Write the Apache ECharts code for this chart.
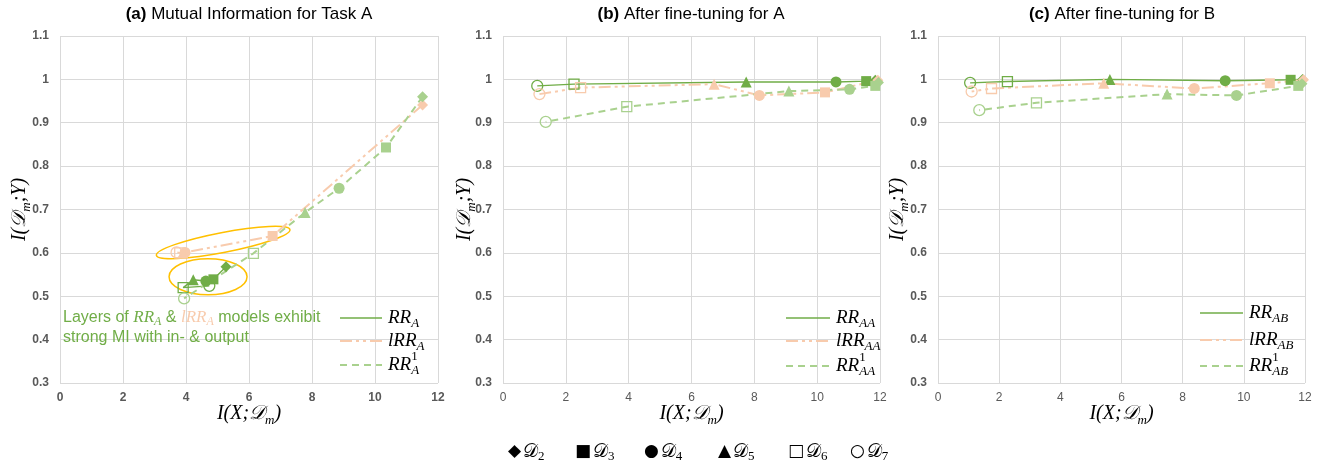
<!DOCTYPE html>
<html>
<head>
<meta charset="utf-8">
<script src="https://cdn.jsdelivr.net/npm/echarts@6/dist/echarts.min.js"></script>
<style>
html, body { margin: 0; background: #fff; }
#main { width: 1320px; height: 465px; }
</style>
</head>
<body>
<div id="main"></div>
<script>
// every series runs through the layers D2 .. D7 in this order
const layers = ['2', '3', '4', '5', '6', '7'];

// (a) Mutual Information for Task A
const aRRx   = [5.27, 4.87, 4.63, 4.23, 3.91, 4.74];
const aRRy   = [0.568, 0.539, 0.535, 0.538, 0.520, 0.524];
const aLRRx  = [11.51, 6.75, 3.97, 3.90, 3.80, 3.70];
const aLRRy  = [0.941, 0.639, 0.601, 0.600, 0.600, 0.601];
const aRR1x  = [11.51, 10.35, 8.86, 7.78, 6.14, 3.94];
const aRR1y  = [0.960, 0.843, 0.749, 0.693, 0.599, 0.495];

// (b) After fine-tuning for A
const bRRx   = [11.85, 11.56, 10.60, 7.74, 2.26, 1.09];
const bRRy   = [0.998, 0.996, 0.994, 0.994, 0.989, 0.985];
const bLRRx  = [11.93, 10.25, 8.16, 6.72, 2.47, 1.16];
const bLRRy  = [0.998, 0.970, 0.963, 0.989, 0.981, 0.966];
const bRR1x  = [11.95, 11.85, 11.03, 9.10, 3.94, 1.36];
const bRR1y  = [0.993, 0.985, 0.977, 0.973, 0.937, 0.902];

// (c) After fine-tuning for B
const cRRx   = [11.92, 11.53, 9.39, 5.62, 2.27, 1.05];
const cRRy   = [1.000, 0.999, 0.997, 1.000, 0.995, 0.992];
const cLRRx  = [11.95, 10.85, 8.38, 5.42, 1.75, 1.10];
const cLRRy  = [0.999, 0.991, 0.979, 0.991, 0.979, 0.972];
const cRR1x  = [11.90, 11.78, 9.76, 7.49, 3.22, 1.35];
const cRR1y  = [0.990, 0.985, 0.963, 0.966, 0.946, 0.929];

const xMin = 0, xMax = 12, xStep = 2;
const yMin = 0.3, yMax = 1.1, yStep = 0.1;

const DARK = '#70AD47', PEACH = '#F8CBAD', LIGHT = '#A9D18E';
const SANS = "'Liberation Sans', Arial, sans-serif";
const MATH = "'Liberation Serif', 'DejaVu Serif', serif";
const SYM  = ['diamond', 'rect', 'circle', 'triangle', 'rect', 'circle'];
const OPEN = [false, false, false, false, true, true];
const SIZE = [11, 10, 11, 11, 10, 11];
const DASHDOT = [12, 4, 3, 4, 3, 4];
const DASH = [7, 5];

const grids = [
  { left: 60,  top: 36, width: 378, height: 347 },
  { left: 503, top: 36, width: 377, height: 347 },
  { left: 938, top: 36, width: 367, height: 347 }
];
const yNameGap = [27, 25, 27];

const chart = echarts.init(document.getElementById('main'), null, { renderer: 'canvas' });

function pts(xs, ys, color) {
  return xs.map((x, i) => ({
    value: [x, ys[i]],
    symbol: SYM[i],
    symbolSize: SIZE[i],
    itemStyle: OPEN[i]
      ? { color: 'rgba(255,255,255,0)', borderColor: color, borderWidth: 1.3 }
      : { color: color, borderWidth: 0 }
  }));
}

function line(gi, name, xs, ys, color, type, width) {
  return {
    type: 'line', name: name, xAxisIndex: gi, yAxisIndex: gi,
    data: pts(xs, ys, color),
    symbol: 'circle',
    lineStyle: { color: color, width: width, type: type },
    itemStyle: { color: color },
    emphasis: { disabled: true },
    silent: true
  };
}

const axisNameRich = {
  m: { fontFamily: MATH, fontStyle: 'italic', fontSize: 20, lineHeight: 26, color: '#000' },
  s: { fontFamily: MATH, fontStyle: 'italic', fontSize: 13, lineHeight: 12, verticalAlign: 'bottom', color: '#000' }
};

const xAxes = grids.map((g, i) => ({
  type: 'value', gridIndex: i, min: xMin, max: xMax, interval: xStep,
  axisLine: { show: false }, axisTick: { show: false },
  splitLine: { lineStyle: { color: '#D9D9D9', width: 1 } },
  axisLabel: { color: '#595959', fontFamily: SANS, fontSize: 12, fontWeight: i === 0 ? 'bold' : 'normal', margin: 9 },
  name: '{m|I(X;𝒟}{s|m}{m|)}', nameLocation: 'middle', nameGap: 18, nameMoveOverlap: false,
  nameTextStyle: { rich: axisNameRich }
}));

const yAxes = grids.map((g, i) => ({
  type: 'value', gridIndex: i, min: yMin, max: yMax, interval: yStep,
  axisLine: { show: false }, axisTick: { show: false },
  splitLine: { lineStyle: { color: '#D9D9D9', width: 1 } },
  axisLabel: {
    color: '#595959', fontFamily: SANS, fontSize: 12, fontWeight: 'bold', margin: 11,
    formatter: v => String(Math.round(v * 10) / 10)
  },
  name: '{m|I(𝒟}{s|m}{m|;Y)}', nameLocation: 'middle', nameGap: yNameGap[i], nameMoveOverlap: false,
  nameTextStyle: { rich: axisNameRich }
}));

const series = [
  line(0, 'RR_A', aRRx, aRRy, DARK, 'solid', 1.4),
  line(0, 'lRR_A', aLRRx, aLRRy, PEACH, DASHDOT, 2),
  line(0, 'RR1_A', aRR1x, aRR1y, LIGHT, DASH, 2),
  line(1, 'RR_AA', bRRx, bRRy, DARK, 'solid', 1.4),
  line(1, 'lRR_AA', bLRRx, bLRRy, PEACH, DASHDOT, 2),
  line(1, 'RR1_AA', bRR1x, bRR1y, LIGHT, DASH, 2),
  line(2, 'RR_AB', cRRx, cRRy, DARK, 'solid', 1.4),
  line(2, 'lRR_AB', cLRRx, cLRRy, PEACH, DASHDOT, 2),
  line(2, 'RR1_AB', cRR1x, cRR1y, LIGHT, DASH, 2)
];

// text measuring for the hand-set math labels
const mctx = document.createElement('canvas').getContext('2d');
function tw(t, font) { mctx.font = font; return mctx.measureText(t).width; }

function mathText(x, y, parts) {
  const out = [];
  let cx = x;
  const fm = 'italic 19px ' + MATH, fs = 'italic 13px ' + MATH, fsu = '13px ' + MATH;
  const put = (xx, yy, t, font) => out.push({
    type: 'text', x: xx, y: yy, silent: true,
    style: { text: t, font: font, fill: '#000', verticalAlign: 'middle' }
  });
  parts.forEach(p => {
    if (p[1] === 'm') { put(cx, y, p[0], fm); cx += tw(p[0], fm); }
    else if (p[1] === 's') { put(cx, y + 6, p[0], fs); cx += tw(p[0], fs); }
    else { put(cx, y - 8, p[0], fsu); put(cx, y + 6, p[2], fs); cx += Math.max(tw(p[0], fsu), tw(p[2], fs)); }
  });
  return out;
}

function legend(x0, x1, ys, sub) {
  const styles = [
    { stroke: DARK, lineWidth: 1.4 },
    { stroke: PEACH, lineWidth: 2, lineDash: DASHDOT },
    { stroke: LIGHT, lineWidth: 2, lineDash: DASH }
  ];
  let out = [];
  ys.forEach((y, i) => {
    out.push({ type: 'line', silent: true, shape: { x1: x0, y1: y, x2: x1, y2: y }, style: styles[i] });
  });
  const lx = x1 + 6;
  out = out.concat(mathText(lx, ys[0], [['RR', 'm'], [sub, 's']]));
  out = out.concat(mathText(lx, ys[1], [['lRR', 'm'], [sub, 's']]));
  out = out.concat(mathText(lx, ys[2], [['RR', 'm'], ['1', 'ss', sub]]));
  return out;
}

function title(x, tag, text) {
  return {
    type: 'text', x: x, y: 14, silent: true,
    style: {
      text: '{b|' + tag + '}{t| ' + text + '}', align: 'center', verticalAlign: 'middle',
      rich: {
        b: { fontWeight: 'bold', fontSize: 17, fontFamily: SANS, fill: '#000' },
        t: { fontSize: 17, fontFamily: SANS, fill: '#000' }
      }
    }
  };
}

const markerGlyphs = ['◆', '■', '●', '▲', '□', '○'];
const markerX = [508, 575, 644, 718, 788, 850];
function markerLegend() {
  return layers.map((d, i) => ({
    type: 'text', x: markerX[i], y: 452, silent: true,
    style: {
      text: '{g|' + markerGlyphs[i] + '}{d|𝒟}{n|' + d + '}', verticalAlign: 'middle',
      rich: {
        g: { fontFamily: "'DejaVu Sans', sans-serif", fontSize: 17, fill: '#000', lineHeight: 22 },
        d: { fontFamily: MATH, fontSize: 19, fill: '#000', lineHeight: 22, padding: [0, 0, 0, 2] },
        n: { fontFamily: MATH, fontSize: 13, fill: '#000', lineHeight: 12, verticalAlign: 'bottom' }
      }
    }
  }));
}

const note = {
  type: 'text', x: 63, y: 328, silent: true,
  style: {
    text: '{g|Layers of }{gm|RR}{gs|A}{g| & }{pm|lRR}{ps|A}{g| models exhibit}\n{g|strong MI with in- & output}',
    verticalAlign: 'middle',
    rich: {
      g: { fontFamily: SANS, fontSize: 16, fill: DARK, lineHeight: 20 },
      gm: { fontFamily: MATH, fontStyle: 'italic', fontSize: 17, fill: DARK, lineHeight: 20 },
      gs: { fontFamily: MATH, fontStyle: 'italic', fontSize: 12, fill: DARK, lineHeight: 11, verticalAlign: 'bottom' },
      pm: { fontFamily: MATH, fontStyle: 'italic', fontSize: 17, fill: PEACH, lineHeight: 20 },
      ps: { fontFamily: MATH, fontStyle: 'italic', fontSize: 12, fill: PEACH, lineHeight: 11, verticalAlign: 'bottom' }
    }
  }
};

chart.setOption({
  animation: false,
  grid: grids,
  xAxis: xAxes,
  yAxis: yAxes,
  series: series
});

// orange rings around the early-layer clusters in panel (a)
const ringUp = chart.convertToPixel({ gridIndex: 0 }, [5.18, 0.624]);
const ringLo = chart.convertToPixel({ gridIndex: 0 }, [4.70, 0.545]);
const rings = [
  { type: 'ellipse', x: ringUp[0], y: ringUp[1], rotation: 0.19, silent: true,
    shape: { cx: 0, cy: 0, rx: 68, ry: 10 }, style: { fill: 'none', stroke: '#FFC000', lineWidth: 1.5 } },
  { type: 'ellipse', x: ringLo[0], y: ringLo[1], silent: true,
    shape: { cx: 0, cy: 0, rx: 39, ry: 18 }, style: { fill: 'none', stroke: '#FFC000', lineWidth: 1.5 } }
];

chart.setOption({
  graphic: [
    title(249, '(a)', 'Mutual Information for Task A'),
    title(691, '(b)', 'After fine-tuning for A'),
    title(1122, '(c)', 'After fine-tuning for B'),
    note
  ].concat(rings)
   .concat(legend(340, 382, [318, 341, 365], 'A'))
   .concat(legend(786, 830, [318, 341, 366], 'AA'))
   .concat(legend(1200, 1243, [313, 340, 366], 'AB'))
   .concat(markerLegend())
});
</script>
</body>
</html>
